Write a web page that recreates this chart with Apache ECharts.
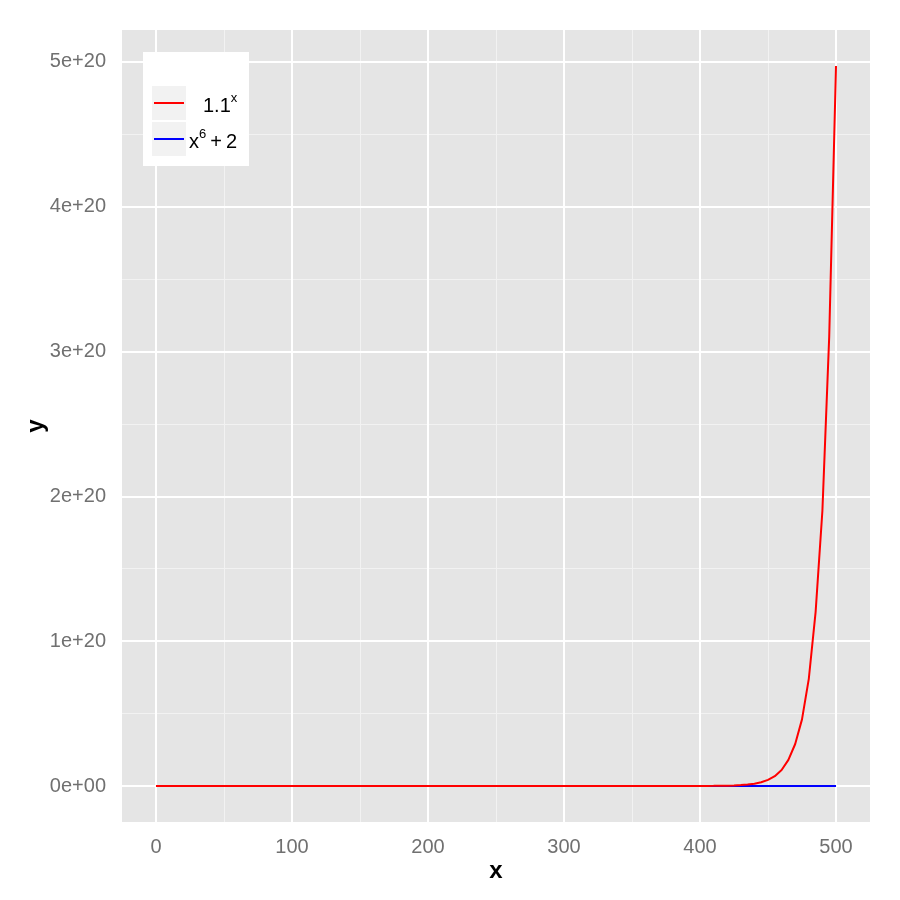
<!DOCTYPE html>
<html>
<head>
<meta charset="utf-8">
<script src="https://cdn.jsdelivr.net/npm/echarts@6/dist/echarts.min.js"></script>
<style>html,body{margin:0;padding:0;background:#fff}#c{width:900px;height:900px}</style>
</head>
<body>
<div id="c"></div>
<script>
// x sample positions (shared by both curves)
var xValues = [0, 50, 100, 150, 200, 250, 300, 350, 400, 405, 410, 415, 420, 425, 430, 435, 440, 445, 450, 455, 460, 465, 470, 475, 480, 485, 490, 495, 500];
// 1.1^x
var redValues = [1, 117, 13781, 1.6e6, 1.9e8, 2.2e10, 2.6e12, 3.1e14, 3.6e16, 5.8e16, 9.4e16, 1.5e17, 2.4e17, 3.9e17, 6.3e17, 1.0e18, 1.6e18, 2.6e18, 4.2e18, 6.8e18, 1.1e19, 1.8e19, 2.9e19, 4.6e19, 7.4e19, 1.2e20, 1.9e20, 3.1e20, 4.97e20];
// x^6 + 2
var blueValues = [2, 1.6e10, 1e12, 1.1e13, 6.4e13, 2.4e14, 7.3e14, 1.8e15, 4.1e15, 4.4e15, 4.8e15, 5.2e15, 5.5e15, 6.0e15, 6.3e15, 6.8e15, 7.3e15, 7.8e15, 8.3e15, 8.9e15, 9.5e15, 1.0e16, 1.1e16, 1.15e16, 1.2e16, 1.3e16, 1.4e16, 1.5e16, 1.6e16];
var seriesNames = ['1.1^x', 'x^6+2'];
// tick labels / grid positions
var xTicks = [0, 100, 200, 300, 400, 500];
var xMinor = [50, 150, 250, 350, 450];
var yTicks = [0, 1e20, 2e20, 3e20, 4e20, 5e20];
var yTickLabels = ['0e+00', '1e+20', '2e+20', '3e+20', '4e+20', '5e+20'];
var yMinor = [5e19, 1.5e20, 2.5e20, 3.5e20, 4.5e20];

var FONT = '"Liberation Sans", Arial, Helvetica, sans-serif';
function pairs(xs, ys) { return xs.map(function (x, i) { return [x, ys[i]]; }); }

var chart = echarts.init(document.getElementById('c'), null, {renderer: 'canvas'});
var option = {
  animation: false,
  backgroundColor: '#ffffff',
  textStyle: {fontFamily: FONT},
  grid: {left: 122, right: 30, top: 30, bottom: 78, show: true, backgroundColor: '#E5E5E5', borderWidth: 0},
  xAxis: {
    type: 'value', min: -25, max: 525,
    name: 'x', nameLocation: 'middle', nameGap: 37, nameMoveOverlap: false,
    nameTextStyle: {color: '#000', fontSize: 24, fontFamily: FONT, fontWeight: 'bold'},
    axisLine: {show: false},
    axisTick: {show: true, customValues: xTicks, length: 8, lineStyle: {color: '#7F7F7F', width: 2}},
    axisLabel: {customValues: xTicks, color: '#707070', fontSize: 20, fontFamily: FONT, margin: 15},
    splitLine: {show: false}
  },
  yAxis: {
    type: 'value', min: -2.485e19, max: 5.2185e20,
    name: 'y', nameLocation: 'middle', nameGap: 74, nameMoveOverlap: false,
    nameTextStyle: {color: '#000', fontSize: 24, fontFamily: FONT, fontWeight: 'bold'},
    axisLine: {show: false},
    axisTick: {show: true, customValues: yTicks, length: 8, lineStyle: {color: '#7F7F7F', width: 2}},
    axisLabel: {customValues: yTicks, color: '#707070', fontSize: 20, fontFamily: FONT, margin: 16,
      formatter: function (v) { var i = yTicks.indexOf(v); return i >= 0 ? yTickLabels[i] : ''; }},
    splitLine: {show: false}
  },
  legend: {
    data: seriesNames, orient: 'vertical', left: 154, top: 86, padding: 0, z: 6,
    icon: 'rect', itemWidth: 30, itemHeight: 2, itemGap: 2,
    backgroundColor: 'transparent',
    formatter: function (n) {
      if (n === '1.1^x') return '{pad|}{b|1.1}{s|x}';
      return '{b|x}{s|6}{b|\u2009+\u20092}';
    },
    textStyle: {
      fontFamily: FONT, color: '#000', fontSize: 20, lineHeight: 34, height: 34,
      rich: {
        pad: {width: 14, height: 34, lineHeight: 34},
        b: {fontSize: 20, lineHeight: 28, fontFamily: FONT, color: '#000', verticalAlign: 'middle', padding: [6, 0, 0, 0]},
        s: {fontSize: 13, fontFamily: FONT, color: '#000', verticalAlign: 'middle', padding: [0, 0, 9, 0]}
      }
    }
  },
  graphic: [
    {type: 'rect', z: 3, shape: {x: 143, y: 52, width: 106, height: 114}, style: {fill: '#ffffff'}, silent: true},
    {type: 'rect', z: 4, shape: {x: 152, y: 86, width: 34, height: 34}, style: {fill: '#F2F2F2'}, silent: true},
    {type: 'rect', z: 4, shape: {x: 152, y: 122, width: 34, height: 34}, style: {fill: '#F2F2F2'}, silent: true}
  ],
  series: [
    {
      name: '_minor', type: 'line', data: [[0, 0]], symbol: 'none', lineStyle: {opacity: 0}, silent: true, z: 1,
      markLine: {
        silent: true, symbol: 'none', z: 1, label: {show: false},
        lineStyle: {color: '#F2F2F2', width: 1, type: 'solid'},
        data: xMinor.map(function (v) { return {xAxis: v}; }).concat(yMinor.map(function (v) { return {yAxis: v}; }))
      }
    },
    {
      name: '_major', type: 'line', data: [[0, 0]], symbol: 'none', lineStyle: {opacity: 0}, silent: true, z: 1,
      markLine: {
        silent: true, symbol: 'none', z: 1, label: {show: false},
        lineStyle: {color: '#FFFFFF', width: 2, type: 'solid'},
        data: xTicks.map(function (v) { return {xAxis: v}; }).concat(yTicks.map(function (v) { return {yAxis: v}; }))
      }
    },
    {
      name: seriesNames[1], type: 'line', data: pairs(xValues, blueValues), symbol: 'none', z: 2,
      color: '#0000FF', lineStyle: {color: '#0000FF', width: 2}
    },
    {
      name: seriesNames[0], type: 'line', data: pairs(xValues, redValues), symbol: 'none', z: 3,
      color: '#FF0000', lineStyle: {color: '#FF0000', width: 2}
    }
  ]
};
chart.setOption(option);
</script>
</body>
</html>
